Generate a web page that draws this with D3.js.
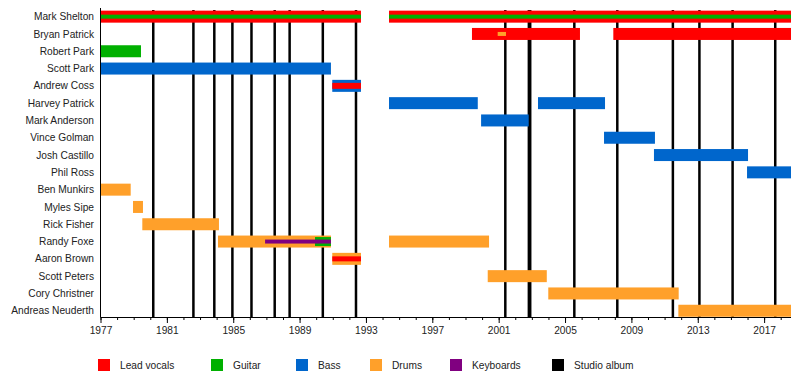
<!DOCTYPE html>
<html>
<head>
<meta charset="utf-8">
<script src="https://cdn.jsdelivr.net/npm/d3@7"></script>
<style>
  body { margin: 0; background: #fff; }
  text { font-family: "Liberation Sans", Arial, sans-serif; }
</style>
</head>
<body>
<div id="container"></div>
<script>
/* CONSTANTS AND GLOBALS */
const width = 800,
  height = 376,
  margin = { top: 8, left: 100.5, right: 9 },
  axisY = 317,
  startYear = 1977,
  endYear = 2018.62

const colors = {
  vocals: '#ff0000',
  guitar: '#00b000',
  bass: '#0066cc',
  drums: '#ffa02a',
  keys: '#800080',
  album: '#000000'
}

/* DATA */
const members = [
  'Mark Shelton', 'Bryan Patrick', 'Robert Park', 'Scott Park', 'Andrew Coss',
  'Harvey Patrick', 'Mark Anderson', 'Vince Golman', 'Josh Castillo', 'Phil Ross',
  'Ben Munkirs', 'Myles Sipe', 'Rick Fisher', 'Randy Foxe', 'Aaron Brown',
  'Scott Peters', 'Cory Christner', 'Andreas Neuderth'
]

// main bars: [member, from, to, role]
const bars = [
  ['Mark Shelton', 1977, 1992.7, 'vocals'],
  ['Mark Shelton', 1994.39, endYear, 'vocals'],
  ['Bryan Patrick', 1999.39, 2005.9, 'vocals'],
  ['Bryan Patrick', 2007.91, endYear, 'vocals'],
  ['Robert Park', 1977, 1979.44, 'guitar'],
  ['Scott Park', 1977, 1990.89, 'bass'],
  ['Andrew Coss', 1990.97, 1992.7, 'bass'],
  ['Harvey Patrick', 1994.39, 1999.74, 'bass'],
  ['Harvey Patrick', 2003.37, 2007.41, 'bass'],
  ['Mark Anderson', 1999.94, 2002.81, 'bass'],
  ['Vince Golman', 2007.35, 2010.42, 'bass'],
  ['Josh Castillo', 2010.36, 2016.03, 'bass'],
  ['Phil Ross', 2015.97, endYear, 'bass'],
  ['Ben Munkirs', 1977, 1978.82, 'drums'],
  ['Myles Sipe', 1978.96, 1979.56, 'drums'],
  ['Rick Fisher', 1979.52, 1984.14, 'drums'],
  ['Randy Foxe', 1984.08, 1990.89, 'drums'],
  ['Randy Foxe', 1994.39, 2000.42, 'drums'],
  ['Aaron Brown', 1990.97, 1992.7, 'drums'],
  ['Scott Peters', 2000.34, 2003.9, 'drums'],
  ['Cory Christner', 2003.99, 2011.85, 'drums'],
  ['Andreas Neuderth', 2011.83, endYear, 'drums']
]

// secondary roles drawn as stripes: [member, from, to, role, stripe height]
const stripes = [
  ['Mark Shelton', 1977, 1992.7, 'guitar', 4],
  ['Mark Shelton', 1994.39, endYear, 'guitar', 4],
  ['Bryan Patrick', 2000.94, 2001.44, 'drums', 4],
  ['Andrew Coss', 1990.97, 1992.7, 'vocals', 6],
  ['Randy Foxe', 1989.93, 1990.89, 'guitar', 9],
  ['Randy Foxe', 1986.92, 1990.89, 'keys', 4],
  ['Aaron Brown', 1990.97, 1992.7, 'vocals', 5]
]

const albums = [
  1980.18, 1982.6, 1983.86, 1984.95, 1986.1, 1987.5, 1988.4, 1990.4, 1992.4,
  2001.4, 2002.82, 2002.9, 2005.56, 2008.15, 2011.5, 2013.1, 2015.1, 2017.67
]

const tickYears = d3.range(1977, 2018, 4)

const legendItems = [
  { role: 'vocals', text: 'Lead vocals', x: 98 },
  { role: 'guitar', text: 'Guitar', x: 211 },
  { role: 'bass', text: 'Bass', x: 296 },
  { role: 'drums', text: 'Drums', x: 370 },
  { role: 'keys', text: 'Keyboards', x: 450 },
  { role: 'album', text: 'Studio album', x: 552 }
]

/* SCALES */
const xScale = d3.scaleLinear()
  .domain([startYear, endYear])
  .range([margin.left, width - margin.right])

const yScale = d3.scaleBand()
  .domain(members)
  .range([margin.top, 319.4])

const barH = 12

const svg = d3.select('#container')
  .append('svg')
  .attr('width', width)
  .attr('height', height)

// album lines (behind bars)
svg.append('g')
  .selectAll('line')
  .data(albums)
  .join('line')
  .attr('x1', d => xScale(d))
  .attr('x2', d => xScale(d))
  .attr('y1', margin.top + 2)
  .attr('y2', axisY)
  .attr('stroke', colors.album)
  .attr('stroke-width', 2.5)

const cy = name => yScale(name) + yScale.bandwidth() / 2

// bars
svg.append('g')
  .selectAll('rect')
  .data(bars)
  .join('rect')
  .attr('x', d => xScale(d[1]))
  .attr('width', d => xScale(d[2]) - xScale(d[1]))
  .attr('y', d => cy(d[0]) - barH / 2)
  .attr('height', barH)
  .attr('fill', d => colors[d[3]])

// stripes
svg.append('g')
  .selectAll('rect')
  .data(stripes)
  .join('rect')
  .attr('x', d => xScale(d[1]))
  .attr('width', d => xScale(d[2]) - xScale(d[1]))
  .attr('y', d => cy(d[0]) - d[4] / 2)
  .attr('height', d => d[4])
  .attr('fill', d => colors[d[3]])

// member labels
svg.append('g')
  .selectAll('text')
  .data(members)
  .join('text')
  .attr('x', 94)
  .attr('y', d => cy(d))
  .attr('dy', '0.35em')
  .attr('text-anchor', 'end')
  .style('font-size', '10.2px')
  .attr('fill', '#222')
  .text(d => d)

// axes
svg.append('line')
  .attr('x1', margin.left).attr('x2', margin.left)
  .attr('y1', margin.top).attr('y2', axisY)
  .attr('stroke', '#000')

const xAxis = d3.axisBottom(xScale)
  .tickValues(d3.range(1977, 2019))
  .tickSize(3)
  .tickFormat('')

svg.append('g')
  .attr('transform', `translate(0, ${axisY})`)
  .call(xAxis)
  .call(g => g.select('.domain').attr('d', `M${margin.left},0.5H${width - margin.right}`))

const xAxisMajor = d3.axisBottom(xScale)
  .tickValues(tickYears)
  .tickSize(6)
  .tickFormat(d3.format('d'))

svg.append('g')
  .attr('transform', `translate(0, ${axisY})`)
  .call(xAxisMajor)
  .call(g => g.select('.domain').remove())
  .call(g => g.selectAll('text')
    .attr('y', 10)
    .style('font-size', '10.2px')
    .style('font-family', '"Liberation Sans", Arial, sans-serif')
    .attr('fill', '#222'))

// legend
const legend = svg.append('g')
  .attr('transform', 'translate(0, 359)')

legend.selectAll('rect')
  .data(legendItems)
  .join('rect')
  .attr('x', d => d.x)
  .attr('y', 0)
  .attr('width', 12)
  .attr('height', 12)
  .attr('fill', d => colors[d.role])

legend.selectAll('text')
  .data(legendItems)
  .join('text')
  .attr('x', d => d.x + 22)
  .attr('y', 6)
  .attr('dy', '0.35em')
  .style('font-size', '10.2px')
  .attr('fill', '#222')
  .text(d => d.text)
</script>
</body>
</html>
